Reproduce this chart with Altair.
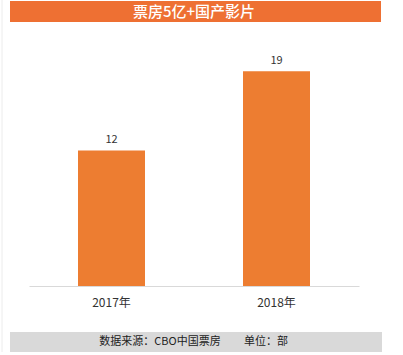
import altair as alt
import pandas as pd

years = ["2017年", "2018年"]
counts = [12, 19]
title_text = "票房5亿+国产影片"
source_text = "数据来源：CBO中国票房"
unit_text = "单位：部"

FONT = "Noto Sans CJK SC"
ORANGE = "#ED7D31"

df = pd.DataFrame({"year": years, "count": counts})

x = alt.X("year:N", sort=years,
          scale=alt.Scale(paddingInner=0, paddingOuter=0),
          axis=alt.Axis(title=None, labelAngle=0, ticks=False, domainColor="#d9d9d9",
                        labelFont=FONT, labelFontSize=12, labelColor="#333333", labelPadding=11,
                        grid=False))
y = alt.Y("count:Q", scale=alt.Scale(domain=[0, 20], nice=False), axis=None)

bars = alt.Chart(df).mark_bar(color=ORANGE, width=67).encode(x=x, y=y)
labels = alt.Chart(df).mark_text(dy=-10, font=FONT, fontSize=11, color="#333333").encode(
    x=x, y=y, text="count:Q")

base = alt.Chart(pd.DataFrame({"t": [title_text]}))
title_bar = base.mark_rect(color="#EE7033", clip=False).encode(
    x=alt.value(-19), x2=alt.value(352), y=alt.value(-59), y2=alt.value(-38))
title_lbl = base.mark_text(font=FONT, fontSize=15, fontWeight=500, color="white", clip=False).encode(
    x=alt.value(165), y=alt.value(-48), text="t:N")

foot = alt.Chart(pd.DataFrame({"a": [source_text], "b": [unit_text]}))
foot_bar = foot.mark_rect(color="#d9d9d9", clip=False).encode(
    x=alt.value(-19), x2=alt.value(353), y=alt.value(272), y2=alt.value(292))
foot_a = foot.mark_text(font=FONT, fontSize=11, color="#222222", align="center", clip=False).encode(
    x=alt.value(131), y=alt.value(282), text="a:N")
foot_b = foot.mark_text(font=FONT, fontSize=11, color="#222222", align="center", clip=False).encode(
    x=alt.value(237), y=alt.value(282), text="b:N")

border = alt.Chart(pd.DataFrame({"v": [0]})).mark_rule(color="#ececec", clip=False).encode(
    x=alt.value(-27), y=alt.value(-60), y2=alt.value(292))

chart = alt.layer(title_bar, title_lbl, bars, labels, foot_bar, foot_a, foot_b, border).properties(
    width=330, height=226,
    padding={"left": 29, "right": 44, "top": 60, "bottom": 69},
    autosize=alt.AutoSizeParams(type="none"),
    background="white",
).configure_view(stroke=None)

chart.save("out.html", embed_options={"renderer": "svg", "actions": False})
